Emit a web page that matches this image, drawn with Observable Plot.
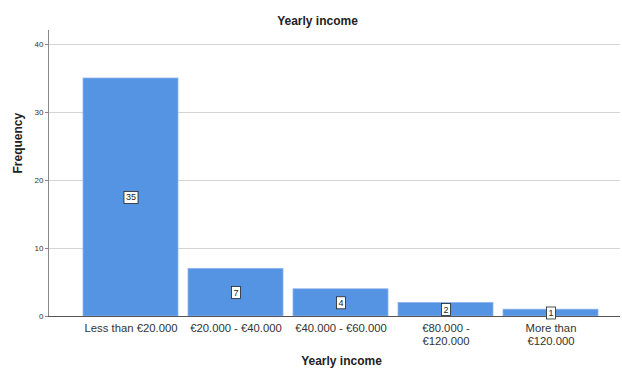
<!DOCTYPE html>
<html><head><meta charset="utf-8">
<script src="https://cdn.jsdelivr.net/npm/d3@7"></script>
<script src="https://cdn.jsdelivr.net/npm/@observablehq/plot@0.6"></script>
<style>body{margin:0;background:#fff}</style>
</head><body><div id="chart"></div>
<script>
const categories = ["Less than €20.000", "€20.000 - €40.000", "€40.000 - €60.000", "€80.000 -\n€120.000", "More than\n€120.000"];
const counts = [35, 7, 4, 2, 1];
const yTicks = [0, 10, 20, 30, 40];
const title = "Yearly income";
const xLabel = "Yearly income";
const yLabel = "Frequency";

const data = categories.map((c, i) => ({cat: c, n: counts[i]}));
const font = "Liberation Sans, Arial, sans-serif";

const plot = Plot.plot({
  width: 622, height: 372,
  marginTop: 30, marginLeft: 48, marginRight: 2, marginBottom: 56,
  style: {fontFamily: font, background: "#fff", color: "#222"},
  x: {domain: categories, paddingInner: 0.1, paddingOuter: 0.267, align: 0.6, label: null},
  y: {domain: [0, 42.06], label: null},
  marks: [
    Plot.gridY(yTicks, {stroke: "#d4d4d4", strokeOpacity: 1, strokeWidth: 1}),
    Plot.barY(data, {x: "cat", y: "n", fill: "#5593e3", stroke: "#8db4ee", strokeWidth: 0.8}),
    Plot.axisY(yTicks, {tickSize: 3, tickPadding: 2, fontSize: 8, stroke: "#888", fill: "#333"}),
    Plot.frame({anchor: "left", stroke: "#888"}),
    Plot.ruleY([0], {stroke: "#555"}),
    Plot.axisX({tickSize: 0, tickPadding: 6, fontSize: 11.3, fill: "#333", lineHeight: 1.15}),
    Plot.text(data, {x: "cat", y: d => d.n / 2, text: d => String(d.n), fontSize: 9, fill: "#222", className: "vlabel"}),
    Plot.text([title], {frameAnchor: "top", dy: -14, dx: -17, fontSize: 12, fontWeight: "bold", fill: "#222"}),
    Plot.text([xLabel], {frameAnchor: "bottom", dy: 48, dx: 7, fontSize: 12, fontWeight: "bold", fill: "#222"}),
    Plot.text([yLabel], {frameAnchor: "left", dx: -30, rotate: -90, fontSize: 12, fontWeight: "bold", fill: "#222"})
  ]
});
document.getElementById("chart").appendChild(plot);

// white boxes behind bar value labels
plot.querySelectorAll("g.vlabel text").forEach(t => {
  const b = t.getBBox();
  const r = document.createElementNS("http://www.w3.org/2000/svg", "rect");
  r.setAttribute("x", b.x - 2); r.setAttribute("y", b.y - 1);
  r.setAttribute("width", b.width + 4); r.setAttribute("height", b.height + 2);
  r.setAttribute("fill", "#fff"); r.setAttribute("stroke", "#222"); r.setAttribute("stroke-width", 0.8);
  if (t.getAttribute("transform")) r.setAttribute("transform", t.getAttribute("transform"));
  t.parentNode.insertBefore(r, t);
});
</script></body></html>
